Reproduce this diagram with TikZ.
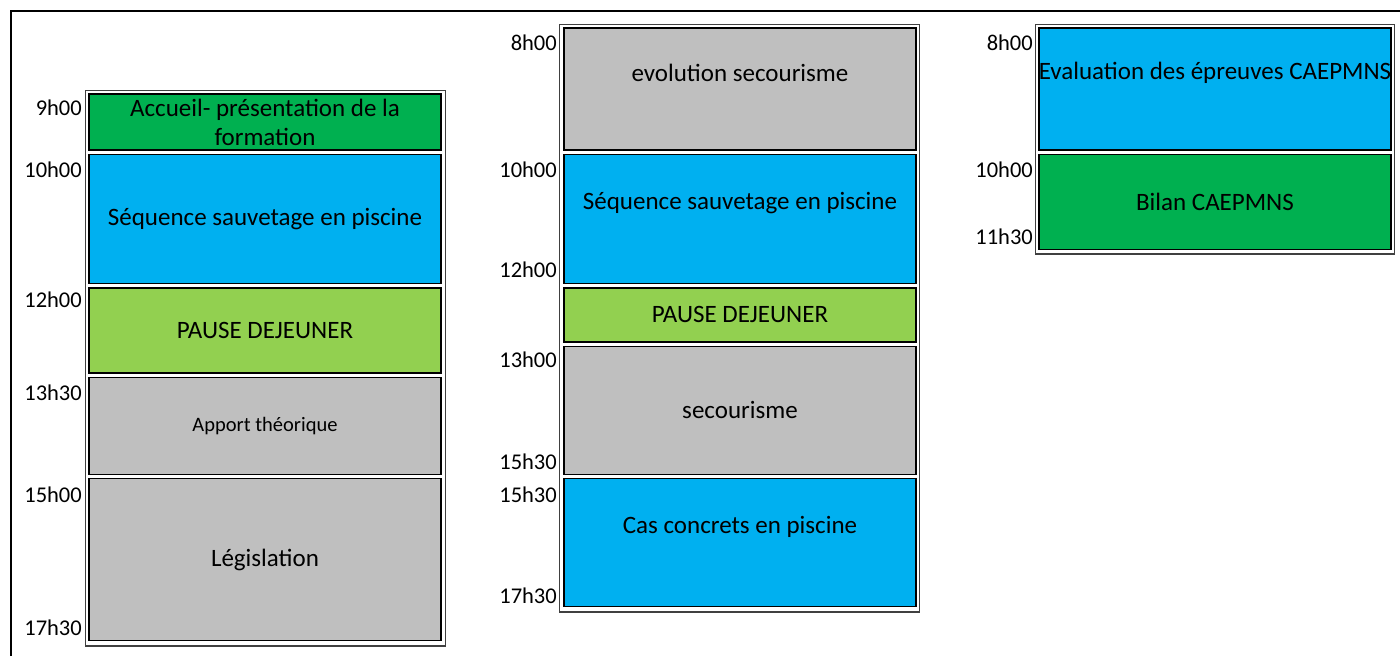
\documentclass[tikz,border=0pt]{standalone}
\usepackage{fontspec}
\setmainfont{Carlito}
\usetikzlibrary{positioning}
\definecolor{vert}{HTML}{00B050}
\definecolor{bleu}{HTML}{00B0F0}
\definecolor{vertclair}{HTML}{92D050}
\definecolor{gris}{HTML}{BFBFBF}

\begin{document}
\begin{tikzpicture}[x=1pt,y=-1pt,node distance=3pt,
    font=\fontsize{25}{29}\selectfont,
    creneau/.style={draw=black,line width=1.4pt,minimum width=352pt,inner sep=0pt,align=center},
    heure/.style={anchor=east,inner sep=0pt,font=\fontsize{22.5}{26}\selectfont},
    jour/.style={draw=black!75,line width=1.6pt}]
  \useasboundingbox (0,0) rectangle (1400,656);
  \draw[line width=1.8pt] (11,656) -- (11,11) -- (1400,11);
  % jour 1
  \draw[jour] (85.5,90.5) rectangle (445.5,646);
  \node[creneau,fill=vert,minimum height=56pt] (acc1) at (265,122) {Accueil- présentation de la\\formation};
  \node[creneau,fill=bleu,minimum height=129pt] (seq1) [below=of acc1] {Séquence sauvetage en piscine};
  \node[creneau,fill=vertclair,minimum height=85pt] (pause1) [below=of seq1] {PAUSE DEJEUNER};
  \node[creneau,fill=gris,minimum height=97pt,font=\fontsize{20.5}{24}\selectfont] (apport1) [below=of pause1] {Apport théorique};
  \node[creneau,fill=gris,minimum height=162pt] (legis1) [below=of apport1] {Législation};
  \node[heure] (h1a) at (82,108) {9h00};
  \node[heure] (h1b) at (82,170) {10h00};
  \node[heure] (h1c) at (82,300) {12h00};
  \node[heure] (h1d) at (82,393) {13h30};
  \node[heure] (h1e) at (82,495) {15h00};
  \node[heure] (h1f) at (82,628) {17h30};
  % jour 2
  \draw[jour] (559.5,24.5) rectangle (919.5,612);
  \node[creneau,fill=gris,minimum height=122pt,label={[yshift=16pt]center:evolution secourisme}] (evol2) at (740,89) {};
  \node[creneau,fill=bleu,minimum height=129pt,label={[yshift=16pt]center:Séquence sauvetage en piscine}] (seq2) [below=of evol2] {};
  \node[creneau,fill=vertclair,minimum height=54pt] (pause2) [below=of seq2] {PAUSE DEJEUNER};
  \node[creneau,fill=gris,minimum height=128pt] (secour2) [below=of pause2] {secourisme};
  \node[creneau,fill=bleu,minimum height=128pt,label={[yshift=16pt]center:Cas concrets en piscine}] (cas2) [below=of secour2] {};
  \node[heure] (h2a) at (557,43) {8h00};
  \node[heure] (h2b) at (557,170) {10h00};
  \node[heure] (h2c) at (557,270) {12h00};
  \node[heure] (h2d) at (557,360) {13h00};
  \node[heure] (h2e) at (557,462) {15h30};
  \node[heure] (h2f) at (557,495) {15h30};
  \node[heure] (h2g) at (557,596) {17h30};
  % jour 3
  \draw[jour] (1035.5,24.5) rectangle (1394.5,254);
  \node[creneau,fill=bleu,minimum height=122pt,label={[yshift=16pt]center:Evaluation des épreuves CAEPMNS}] (eval3) at (1215,89) {};
  \node[creneau,fill=vert,minimum height=95pt] (bilan3) [below=of eval3] {Bilan CAEPMNS};
  \node[heure] (h3a) at (1033,43) {8h00};
  \node[heure] (h3b) at (1033,170) {10h00};
  \node[heure] (h3c) at (1033,237) {11h30};
\end{tikzpicture}
\end{document}
